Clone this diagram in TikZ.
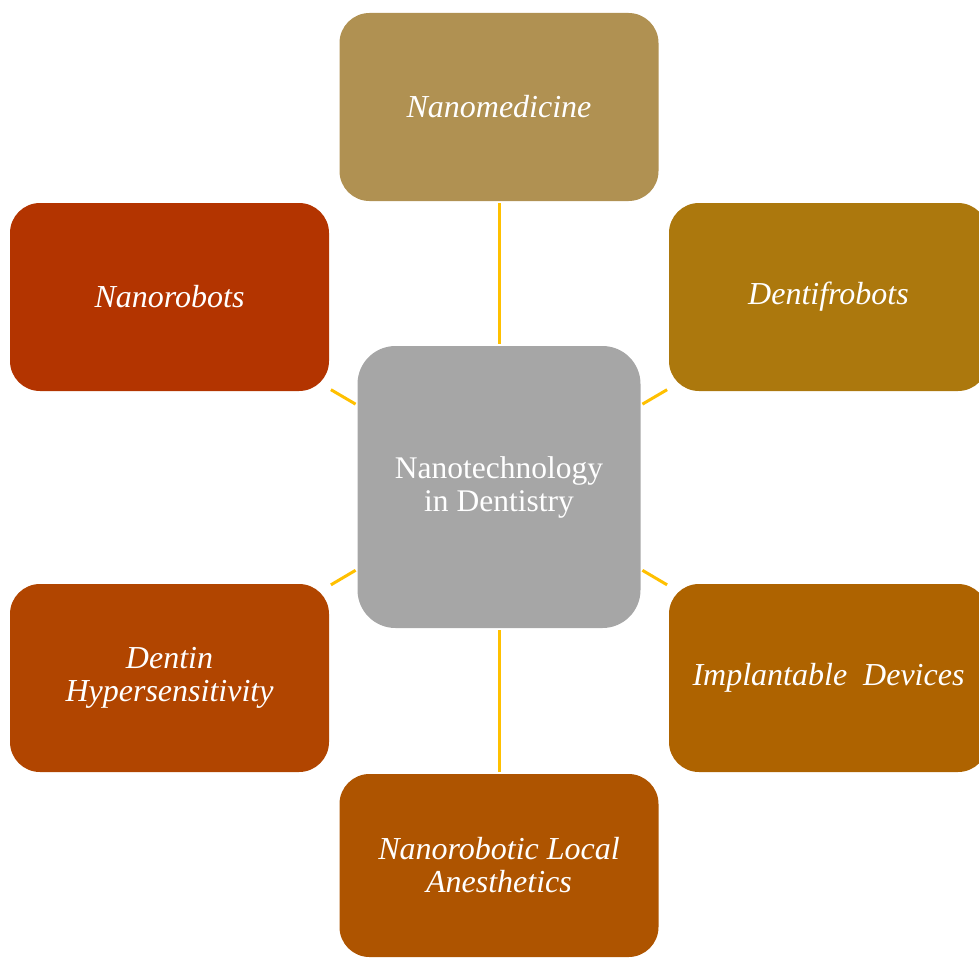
\documentclass[tikz,border=0pt]{standalone}
\usepackage{fontspec}
\setmainfont{Liberation Serif}
\definecolor{cMed}{HTML}{B09152}
\definecolor{cRob}{HTML}{B33400}
\definecolor{cDen}{HTML}{AC780D}
\definecolor{cCen}{HTML}{A6A6A6}
\definecolor{cHyp}{HTML}{B14500}
\definecolor{cImp}{HTML}{AE6300}
\definecolor{cAne}{HTML}{AE5400}
\definecolor{cLine}{HTML}{FFC000}
\begin{document}
\begin{tikzpicture}[x=1pt,y=-1pt,
  outer/.style={rectangle,rounded corners=30pt,minimum width=319pt,minimum height=188pt,
    text=white,align=center,font=\fontsize{32}{33}\selectfont\itshape,inner sep=0pt},
  center/.style={rectangle,rounded corners=38pt,minimum width=283pt,minimum height=282pt,
    fill=cCen,text=white,align=center,font=\fontsize{31.5}{33}\selectfont,inner sep=0pt},
  link/.style={draw=cLine,line width=3pt,shorten >=2pt,shorten <=2pt}]
\useasboundingbox (0,0) rectangle (979,958);
\node[center] (c) at (499,487) {Nanotechnology\\in Dentistry};
\node[outer,fill=cMed] (med) at (499,107) {Nanomedicine};
\node[outer,fill=cRob] (rob) at (169.5,297) {Nanorobots};
\node[outer,fill=cDen] (den) at (828.5,297) {Dentifrobots};
\node[outer,fill=cHyp] (hyp) at (169.5,678) {Dentin\\Hypersensitivity};
\node[outer,fill=cImp] (imp) at (828.5,678) {Implantable~ Devices};
\node[outer,fill=cAne,minimum height=183pt] (ane) at (499,865.5) {Nanorobotic Local\\Anesthetics};
\draw[link] (c) -- (med);
\draw[link] (c) -- (ane);
\draw[link] (c) -- (rob);
\draw[link] (c) -- (den);
\draw[link] (c) -- (hyp);
\draw[link] (c) -- (imp);
\end{tikzpicture}
\end{document}
